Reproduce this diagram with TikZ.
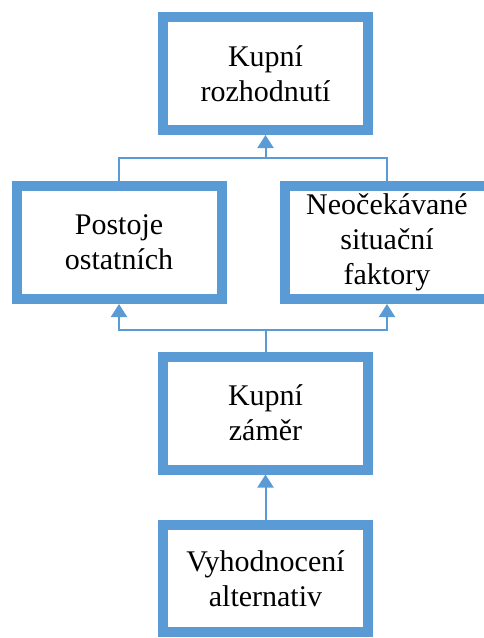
\documentclass[tikz,border=0pt]{standalone}
\usepackage{fontspec}
\setmainfont{Liberation Serif}
\usetikzlibrary{arrows.meta}
\definecolor{boxblue}{HTML}{5B9BD5}

\begin{document}
\begin{tikzpicture}[x=1pt, y=-1pt, >={Triangle[width=16pt,length=13pt]},
  blok/.style={draw=boxblue, line width=10pt, outer sep=5pt, fill=white,
    minimum width=205pt, minimum height=113pt, align=center,
    font=\fontsize{30}{35}\selectfont},
  spoj/.style={draw=boxblue, line width=2pt}]
\useasboundingbox (0,0) rectangle (483,638);

\node[blok] (rozh) at (265.5,73.5) {Kupní\\rozhodnutí};
\node[blok] (post) at (119,242.5) {Postoje\\ostatních};
\node[blok] (neoc) at (387,242.5) {Neočekávané\\situační\\faktory};
\node[blok] (zamer) at (265.5,413) {Kupní\\záměr};
\node[blok, minimum height=107pt] (vyhod) at (265.5,578.5) {Vyhodnocení\\alternativ};

\coordinate (horni) at (265.5,158);
\coordinate (dolni) at (265.5,330);

\draw[spoj] (post.north) |- (horni) -| (neoc.north);
\draw[spoj,->] (horni) -- (rozh.south);
\draw[spoj] (zamer.north) -- (dolni);
\draw[spoj,->] (dolni) -| (post.south);
\draw[spoj,->] (dolni) -| (neoc.south);
\draw[spoj,->] (vyhod.north) -- (zamer.south);
\end{tikzpicture}
\end{document}
